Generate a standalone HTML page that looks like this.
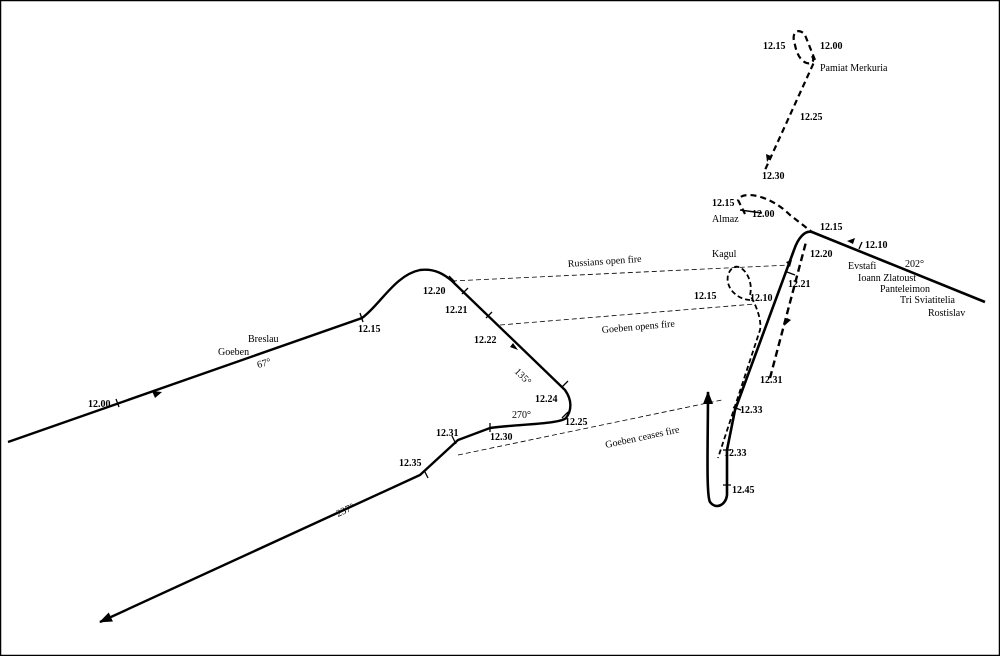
<!DOCTYPE html>
<html><head><style>
html,body{margin:0;padding:0;background:#fff}
svg{display:block}
text{font-family:"Liberation Serif",serif;font-size:10px;fill:#000}
.b{font-weight:bold}
</style></head><body>
<svg width="1000" height="656" viewBox="0 0 1000 656">
<rect x="0.5" y="0.5" width="999" height="655" fill="#fff" stroke="#000" stroke-width="1.5"/>
<defs><marker id="a" markerUnits="userSpaceOnUse" markerWidth="14" markerHeight="10" refX="12" refY="5" orient="auto"><path d="M0,0 L13,5 L0,10 Z" fill="#000"/></marker></defs>
<g fill="none" stroke="#000">
<path d="M452,281 L790,265" stroke-width="0.8" stroke-dasharray="5,3"/>
<path d="M500,325 L755,304" stroke-width="0.8" stroke-dasharray="5,3"/>
<path d="M458,455 L722,400" stroke-width="0.8" stroke-dasharray="5,3"/>
<path d="M8,442 L362,318 C380,305 395,275 420,270 C435,268 445,275 452,281 L565,390 C572,400 572,410 566,418 C560,424 520,424 490,428 L458,440 L420,475 L100,622" stroke-width="2.4" marker-end="url(#a)"/>
<path d="M985,302 L812,232 C805,230 798,238 794,250 L735,410 L727,450 L727,495 C726,505 716,510 710,502 C706,495 708,440 708,392" stroke-width="2.6" marker-end="url(#a)"/>
<path d="M770,378 L806,242" stroke-width="2.4" stroke-dasharray="7,4"/>
<path d="M745,214 L738,200 C742,190 770,195 790,215 L812,232" stroke-width="2.2" stroke-dasharray="6,4"/>
<path d="M762,213 L740,210" stroke-width="1.5"/>
<path d="M750,300 C740,300 725,290 728,275 C735,255 755,275 750,295 C756,305 762,320 760,330 L718,458" stroke-width="1.8" stroke-dasharray="5,3"/>
<path d="M812,56 C818,65 800,70 795,45 C790,30 800,28 805,35 L815,60 L765,170" stroke-width="2.2" stroke-dasharray="6,4"/>
<!-- ticks -->
<g stroke-width="1.3">
<path d="M116,399 l3,8 M360,313 l3,9 M449,276 l6,6 M462,294 l6,-6 M486,318 l6,-6 M562,387 l6,-6 M562,418 l6,-6 M490,423 l0,9 M452,436 l4,8 M424,470 l4,8 M787,272 l8,3 M733,407 l8,3 M723,450 l8,0 M723,485 l8,0 M862,242 l-3,7"/>
</g>
<!-- mid arrows -->
<g fill="#000" stroke="none">
<path d="M162,392 l-10,-1 l3,7 Z"/>
<path d="M518,350 l-8,-3 l3,-4 Z"/>
<path d="M786,262 l6,-2 l-2,7 Z"/>
<path d="M767,162 l-1,-8 l5,2 Z"/>
<path d="M847,241 l8,-3 l-2,6 Z"/>
<path d="M784,326 l3,-8 l4,2 Z"/>
</g>
</g>
<g class="b">
<text x="88" y="407">12.00</text><text x="358" y="332">12.15</text>
<text x="423" y="294">12.20</text><text x="445" y="313">12.21</text>
<text x="474" y="343">12.22</text><text x="535" y="402">12.24</text>
<text x="565" y="425">12.25</text><text x="490" y="440">12.30</text>
<text x="436" y="436">12.31</text><text x="399" y="466">12.35</text>
<text x="763" y="49">12.15</text><text x="820" y="49">12.00</text>
<text x="800" y="120">12.25</text><text x="762" y="179">12.30</text>
<text x="712" y="206">12.15</text><text x="752" y="217">12.00</text>
<text x="820" y="230">12.15</text><text x="865" y="248">12.10</text>
<text x="810" y="257">12.20</text><text x="788" y="287">12.21</text>
<text x="694" y="299">12.15</text><text x="750" y="301">12.10</text>
<text x="760" y="383">12.31</text><text x="740" y="413">12.33</text>
<text x="724" y="456">12.33</text><text x="732" y="493">12.45</text>
</g>
<text x="248" y="342">Breslau</text><text x="218" y="355">Goeben</text>
<text x="258" y="368" transform="rotate(-15 258 368)">67°</text>
<text x="514" y="372" transform="rotate(45 514 372)">135°</text>
<text x="512" y="418">270°</text>
<text x="338" y="517" transform="rotate(-25 338 517)">237°</text>
<text x="568" y="267" transform="rotate(-4 568 267)" font-size="9">Russians open fire</text>
<text x="602" y="333" transform="rotate(-5 602 333)" font-size="9">Goeben opens fire</text>
<text x="606" y="448" transform="rotate(-12 606 448)" font-size="9">Goeben ceases fire</text>
<text x="820" y="71">Pamiat Merkuria</text>
<text x="712" y="222">Almaz</text><text x="712" y="257">Kagul</text>
<text x="905" y="267">202°</text>
<text x="848" y="269">Evstafi</text><text x="858" y="281">Ioann Zlatoust</text>
<text x="880" y="292">Panteleimon</text><text x="900" y="303">Tri Sviatitelia</text>
<text x="928" y="316">Rostislav</text>
</svg>
</body></html>
